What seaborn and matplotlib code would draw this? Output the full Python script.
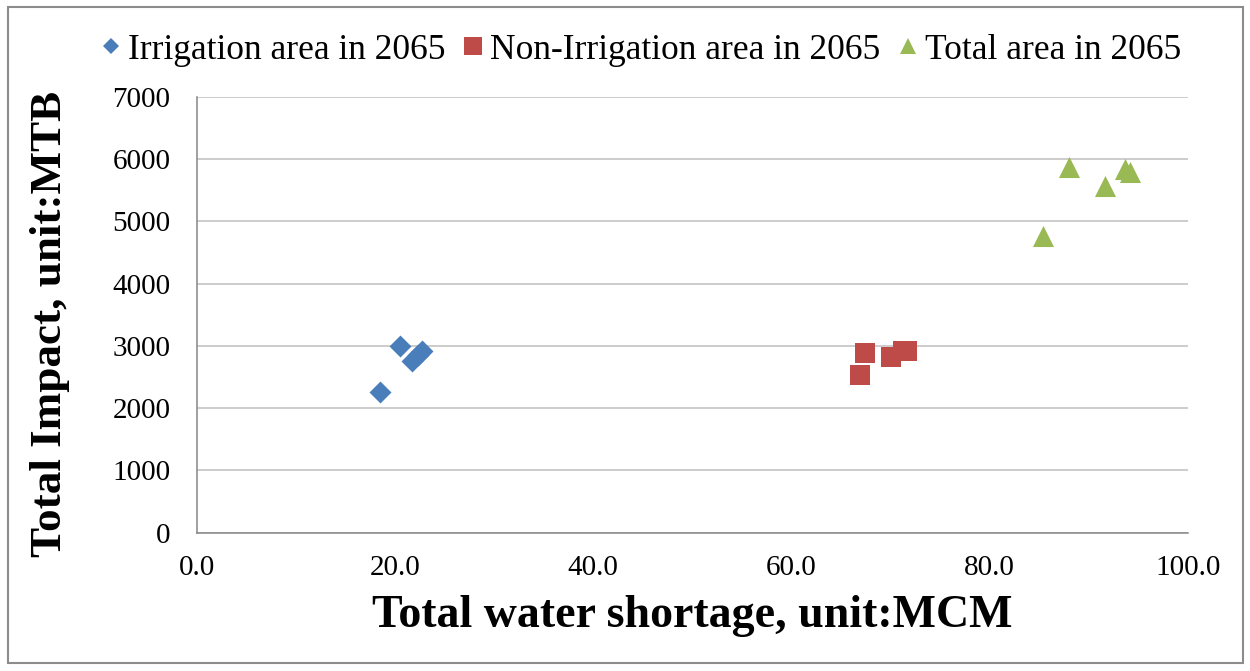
import matplotlib
matplotlib.use("Agg")
import matplotlib.pyplot as plt
from matplotlib.lines import Line2D
from matplotlib.patches import Rectangle
import seaborn as sns
import pandas as pd

# Total water shortage (MCM) and total impact (MTB) per scenario group
irrigation_x = [18.5, 20.5, 21.7, 22.3, 22.7]
irrigation_y = [2260, 3000, 2750, 2860, 2910]

non_irrigation_x = [66.9, 67.4, 70.0, 71.2, 71.7]
non_irrigation_y = [2530, 2880, 2820, 2910, 2920]

total_x = [85.4, 88.0, 91.6, 93.6, 94.1]
total_y = [4770, 5870, 5560, 5840, 5790]

series_names = ["Irrigation area in 2065", "Non-Irrigation area in 2065", "Total area in 2065"]
series_colors = ["#4A7EBB", "#BE4B48", "#98B954"]
series_markers = ["D", "s", "^"]
series_sizes = [125, 200, 230]

x_ticks = [0.0, 20.0, 40.0, 60.0, 80.0, 100.0]
y_ticks = [0, 1000, 2000, 3000, 4000, 5000, 6000, 7000]

df = pd.concat([
    pd.DataFrame({"shortage": irrigation_x, "impact": irrigation_y, "series": series_names[0]}),
    pd.DataFrame({"shortage": non_irrigation_x, "impact": non_irrigation_y, "series": series_names[1]}),
    pd.DataFrame({"shortage": total_x, "impact": total_y, "series": series_names[2]}),
])

sns.set_style("white")
plt.rcParams["font.family"] = ["Liberation Serif", "DejaVu Serif"]
plt.rcParams["text.color"] = "black"
plt.rcParams["axes.labelcolor"] = "black"

fig = plt.figure(figsize=(12.5, 6.71), dpi=100)
ax = fig.add_axes([0.1574, 0.2061, 0.793, 0.6499])

for name, color, marker, size in zip(series_names, series_colors, series_markers, series_sizes):
    sns.scatterplot(data=df[df["series"] == name], x="shortage", y="impact",
                    color=color, marker=marker, s=size, linewidth=0,
                    legend=False, ax=ax, zorder=3)

ax.set_xlim(0, 100)
ax.set_ylim(0, 7000)
ax.set_xticks(x_ticks)
ax.set_xticklabels([f"{v:.1f}" for v in x_ticks])
ax.set_yticks(y_ticks)
ax.set_yticklabels([f"{v:d}" for v in y_ticks])

ax.grid(axis="y", color="#BFBFBF", linewidth=1.1)
ax.grid(axis="x", visible=False)
ax.set_axisbelow(True)
for side in ["top", "right"]:
    ax.spines[side].set_visible(False)
for side in ["left", "bottom"]:
    ax.spines[side].set_color("#868686")
    ax.spines[side].set_linewidth(1.1)

ax.tick_params(axis="both", which="major", direction="out", length=7,
               width=1.1, color="#868686", labelsize=21, labelcolor="black")
ax.tick_params(axis="y", pad=12)
ax.tick_params(axis="x", pad=9)

ax.set_xlabel("Total water shortage, unit:MCM", fontsize=33, fontweight="bold", color="black")
ax.set_ylabel("Total Impact, unit:MTB", fontsize=32.5, fontweight="bold", color="black")
ax.xaxis.set_label_coords(0.5, -0.143)
ax.yaxis.set_label_coords(-0.128, 0.478)

handles = [
    Line2D([], [], linestyle="none", marker="D", markersize=8.5, color=series_colors[0], markeredgewidth=0),
    Line2D([], [], linestyle="none", marker="s", markersize=13, color=series_colors[1], markeredgewidth=0),
    Line2D([], [], linestyle="none", marker="^", markersize=12, color=series_colors[2], markeredgewidth=0),
]
fig.legend(handles, series_names, loc="center", bbox_to_anchor=(0.513, 0.925),
           ncol=3, frameon=False, fontsize=25.5, handlelength=0.55,
           handletextpad=0.2, columnspacing=0.5, borderaxespad=0, borderpad=0,
           labelcolor="black")

# Chart-area border
fig.add_artist(Rectangle((0.006, 0.012), 0.988, 0.978, transform=fig.transFigure,
                         fill=False, edgecolor="#8C8C8C", linewidth=1.5))

fig.savefig("out.png", dpi=100)
